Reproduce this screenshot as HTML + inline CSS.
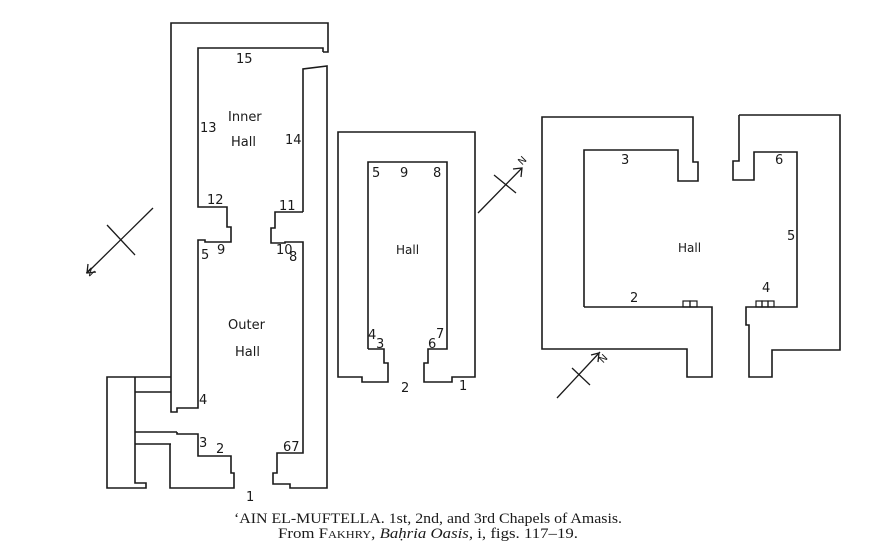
<!DOCTYPE html>
<html><head><meta charset="utf-8"><style>
html,body{margin:0;padding:0;background:#fff;}
svg{display:block;}
.w{fill:none;stroke:#1a1a1a;stroke-width:1.6;stroke-linejoin:miter;}
.t{font-family:"DejaVu Sans","Liberation Sans",sans-serif;font-size:13px;fill:#1a1a1a;}
.c{font-family:"Liberation Serif",serif;font-size:15px;fill:#1a1a1a;}
</style></head><body>
<svg width="871" height="550" viewBox="0 0 871 550" xmlns="http://www.w3.org/2000/svg">
<!-- Left chapel -->
<polyline class="w" points="323,52 328,52 328,23 171,23 171,412 177,412 177,408 198,408 198,240 205,240 205,242 231,242 231,227 227,227 227,207 198,207 198,48 323,48 323,52"/>
<polyline class="w" points="303,212 303,69 327,66 327,488 290,488 290,484 273,484 273,473 277,473 277,453 303,453 303,242 285,242 285,243 271,243 271,228 275,228 275,212 303,212"/>
<polyline class="w" points="171,377 107,377 107,488 146,488 146,483 135,483 135,377"/>
<line class="w" x1="135" y1="392" x2="171" y2="392"/>
<line class="w" x1="135" y1="432" x2="177" y2="432"/>
<line class="w" x1="135" y1="444" x2="171" y2="444"/>
<polyline class="w" points="177,432 177,434 198,434 198,456 231,456 231,473 234,473 234,488 170,488 170,444"/>
<g class="t">
<text x="236" y="63">15</text>
<text x="228" y="121">Inner</text>
<text x="231" y="146">Hall</text>
<text x="200" y="132">13</text>
<text x="285" y="144">14</text>
<text x="207" y="204">12</text>
<text x="279" y="210">11</text>
<text x="201" y="259">5</text>
<text x="217" y="254">9</text>
<text x="276" y="254">10</text>
<text x="289" y="261">8</text>
<text x="228" y="329">Outer</text>
<text x="235" y="356">Hall</text>
<text x="199" y="404">4</text>
<text x="199" y="447">3</text>
<text x="216" y="453">2</text>
<text x="283" y="451">67</text>
<text x="246" y="501">1</text>
</g>
<line class="w" x1="153" y1="208" x2="87" y2="273" style="stroke-width:1.3"/>
<line class="w" x1="107" y1="225" x2="135" y2="255" style="stroke-width:1.3"/>
<polyline class="w" points="88,264 87,273 96,272" style="stroke-width:1.3"/>
<text class="t" x="86" y="276" transform="rotate(-135 90 272)" style="font-size:10px">N</text>

<!-- Middle chapel -->
<polyline class="w" points="368,349 368,162 447,162 447,349 428,349 428,363 424,363 424,382 452,382 452,377 475,377 475,132 338,132 338,377 362,377 362,382 388,382 388,363 384,363 384,349 368,349"/>
<g class="t">
<text x="372" y="177">5</text>
<text x="400" y="177">9</text>
<text x="433" y="177">8</text>
<text x="396" y="254" style="font-size:12px">Hall</text>
<text x="368" y="339">4</text>
<text x="376" y="348">3</text>
<text x="428" y="348">6</text>
<text x="436" y="338">7</text>
<text x="401" y="392">2</text>
<text x="459" y="390">1</text>
</g>
<line class="w" x1="478" y1="213" x2="522" y2="168" style="stroke-width:1.3"/>
<line class="w" x1="494" y1="175" x2="516" y2="193" style="stroke-width:1.3"/>
<polyline class="w" points="513,169 522,168 521,177" style="stroke-width:1.3"/>
<text class="t" x="518" y="164" transform="rotate(-45 522 160)" style="font-size:10px">N</text>

<!-- Right chapel -->
<polyline class="w" points="584,307 584,150 678,150 678,181 698,181 698,162 693,162 693,117 542,117 542,349 687,349 687,377 712,377 712,307 584,307"/>
<rect class="w" x="683" y="301" width="7" height="6" style="stroke-width:1.2"/>
<rect class="w" x="690" y="301" width="7" height="6" style="stroke-width:1.2"/>
<polyline class="w" points="739,115 840,115 840,350 772,350 772,377 749,377 749,325 746,325 746,307 797,307 797,152 754,152 754,180 733,180 733,161 739,161 739,115"/>
<rect class="w" x="756" y="301" width="6" height="6" style="stroke-width:1.2"/>
<rect class="w" x="762" y="301" width="6" height="6" style="stroke-width:1.2"/>
<rect class="w" x="768" y="301" width="6" height="6" style="stroke-width:1.2"/>
<g class="t">
<text x="621" y="164">3</text>
<text x="775" y="164">6</text>
<text x="678" y="252" style="font-size:12px">Hall</text>
<text x="787" y="240">5</text>
<text x="630" y="302">2</text>
<text x="762" y="292">4</text>
</g>
<line class="w" x1="557" y1="398" x2="600" y2="352" style="stroke-width:1.3"/>
<line class="w" x1="572" y1="368" x2="590" y2="385" style="stroke-width:1.3"/>
<polyline class="w" points="591,355 599,353 598,362" style="stroke-width:1.3"/>
<text class="t" x="599" y="362" transform="rotate(-45 603 358)" style="font-size:10px">N</text>

<!-- Caption -->
<text class="c" x="428" y="523" text-anchor="middle" textLength="388" lengthAdjust="spacingAndGlyphs">‘AIN EL-MUFTELLA. 1st, 2nd, and 3rd Chapels of Amasis.</text>
<text class="c" x="428" y="538" text-anchor="middle" textLength="300" lengthAdjust="spacingAndGlyphs">From F<tspan style="font-size:11px">AKHRY</tspan>, <tspan font-style="italic">Baḥria Oasis</tspan>, i, figs. 117–19.</text>
</svg>
</body></html>
